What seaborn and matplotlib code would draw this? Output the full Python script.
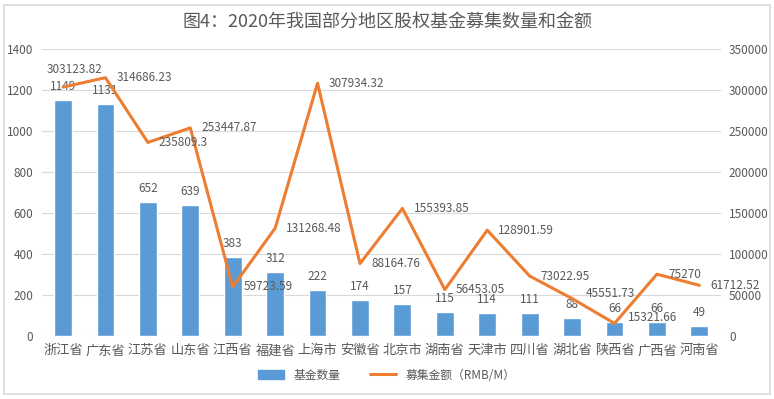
import matplotlib
matplotlib.use("Agg")
import matplotlib.pyplot as plt
import numpy as np
import pandas as pd
import seaborn as sns
from matplotlib.lines import Line2D
from matplotlib.patches import Patch, Rectangle

regions = ['浙江省', '广东省', '江苏省', '山东省', '江西省', '福建省', '上海市', '安徽省',
           '北京市', '湖南省', '天津市', '四川省', '湖北省', '陕西省', '广西省', '河南省']
fund_count = [1149, 1131, 652, 639, 383, 312, 222, 174, 157, 115, 114, 111, 88, 66, 66, 49]
raised_amount = [303123.82, 314686.23, 235809.3, 253447.87, 59723.59, 131268.48, 307934.32,
                 88164.76, 155393.85, 56453.05, 128901.59, 73022.95, 45551.73, 15321.66,
                 75270, 61712.52]

bar_color = '#5B9BD5'
line_color = '#ED7D31'
text_color = '#595959'

sns.set_theme(style='white')
plt.rcParams['font.family'] = ['Noto Sans CJK SC', 'DejaVu Sans']

df = pd.DataFrame({'region': regions, 'count': fund_count, 'amount': raised_amount,
                   'pos': np.arange(len(regions))})

fig = plt.figure(figsize=(7.74, 3.99), dpi=100)
ax = fig.add_axes([0.054, 0.158, 0.877, 0.72])
ax2 = ax.twinx()

sns.barplot(data=df, x='region', y='count', color=bar_color, width=0.42, ax=ax,
            saturation=1, zorder=2)
sns.lineplot(data=df, x='pos', y='amount', color=line_color, linewidth=2.2, ax=ax2)

ax.set_ylim(0, 1400)
ax.set_yticks(range(0, 1401, 200))
ax2.set_ylim(0, 350000)
ax2.set_yticks(range(0, 350001, 50000))
ax.set_xlim(-0.5, len(regions) - 0.5)
ax.yaxis.grid(True, color='#D9D9D9', linewidth=0.8)
ax.set_axisbelow(True)
ax.set_xlabel('')
ax.set_ylabel('')
ax2.set_xlabel('')
ax2.set_ylabel('')
for a in (ax, ax2):
    for s in a.spines.values():
        s.set_visible(False)
    a.tick_params(axis='both', length=0, labelsize=8.5, labelcolor=text_color, pad=6)
ax.tick_params(axis='x', labelsize=9.5, pad=6)

for i, v in enumerate(fund_count):
    ax.annotate(str(v), (i, v), xytext=(0, 5), textcoords='offset points',
                ha='center', va='bottom', fontsize=8.5, color=text_color)

for i, v in enumerate(raised_amount):
    lab = f'{v:.2f}'.rstrip('0').rstrip('.')
    if i == 0:
        ax2.annotate(lab, (i, v), xytext=(8, 8), textcoords='offset points',
                     ha='center', va='bottom', fontsize=8.5, color=text_color)
    elif i in (12, 13):
        ax2.annotate(lab, (i, v), xytext=(10, 4), textcoords='offset points',
                     ha='left', va='center', fontsize=8.5, color=text_color)
    else:
        ax2.annotate(lab, (i, v), xytext=(8, 0), textcoords='offset points',
                     ha='left', va='center', fontsize=8.5, color=text_color)

fig.text(0.5, 0.945, '图4：2020年我国部分地区股权基金募集数量和金额', ha='center', va='center',
         fontsize=13, color=text_color)

handles = [Patch(color=bar_color), Line2D([0], [0], color=line_color, linewidth=2.2)]
fig.legend(handles, ['基金数量', '募集金额（RMB/M）'], loc='center', bbox_to_anchor=(0.5, 0.06),
           ncol=2, frameon=False, fontsize=8.5, labelcolor=text_color,
           handlelength=2.2, handleheight=0.7, columnspacing=2.5)

fig.patches.append(Rectangle((0.005, 0.012), 0.99, 0.975, transform=fig.transFigure,
                             fill=False, edgecolor='#D9D9D9', linewidth=1.2))

fig.savefig('out.png', dpi=100)
